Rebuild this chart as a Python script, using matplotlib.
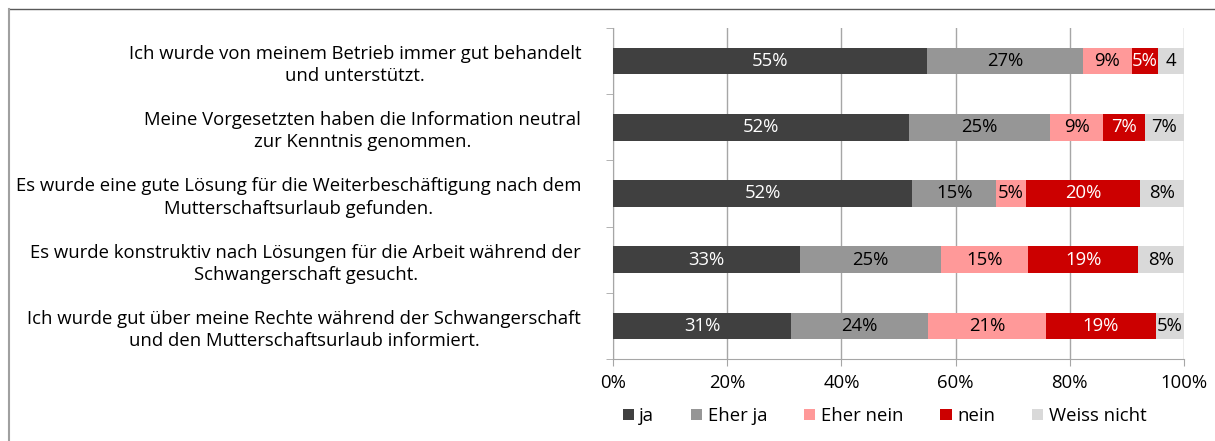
import numpy as np
import matplotlib.pyplot as plt
from matplotlib.lines import Line2D

plt.rcParams['font.family'] = ['Open Sans', 'DejaVu Sans']

statements = [
    "Ich wurde von meinem Betrieb immer gut behandelt\nund unterstützt.",
    "Meine Vorgesetzten haben die Information neutral\nzur Kenntnis genommen.",
    "Es wurde eine gute Lösung für die Weiterbeschäftigung nach dem\nMutterschaftsurlaub gefunden.",
    "Es wurde konstruktiv nach Lösungen für die Arbeit während der\nSchwangerschaft gesucht.",
    "Ich wurde gut über meine Rechte während der Schwangerschaft\nund den Mutterschaftsurlaub informiert.",
]
answers = ["ja", "Eher ja", "Eher nein", "nein", "Weiss nicht"]

# shares in percent
ja = [55.0, 51.9, 52.4, 32.7, 31.2]
eher_ja = [27.3, 24.6, 14.7, 24.7, 24.0]
eher_nein = [8.6, 9.4, 5.2, 15.3, 20.6]
nein = [4.6, 7.2, 20.0, 19.3, 19.3]
weiss_nicht = [4.5, 6.9, 7.7, 8.0, 4.9]

# printed labels (the last one in row 1 is cut to "4")
labels_ja = ["55%", "52%", "52%", "33%", "31%"]
labels_eher_ja = ["27%", "25%", "15%", "25%", "24%"]
labels_eher_nein = ["9%", "9%", "5%", "15%", "21%"]
labels_nein = ["5%", "7%", "20%", "19%", "19%"]
labels_weiss = ["4", "7%", "8%", "8%", "5%"]

colors = ["#404040", "#969696", "#FF9999", "#CC0000", "#D9D9D9"]
text_colors = ["white", "black", "black", "white", "black"]

series = [ja, eher_ja, eher_nein, nein, weiss_nicht]
series_labels = [labels_ja, labels_eher_ja, labels_eher_nein, labels_nein, labels_weiss]

FS = 13.3

fig = plt.figure(figsize=(12.15, 4.41), dpi=100)
ax = fig.add_axes([613 / 1215, 1 - 359 / 441, (1184 - 613) / 1215, (359 - 28) / 441])

y = np.arange(len(statements))
left = np.zeros(len(statements))
for vals, labs, col, tcol, name in zip(series, series_labels, colors, text_colors, answers):
    vals = np.array(vals)
    ax.barh(y, vals, left=left, height=0.4, color=col, label=name, zorder=3)
    for yi, l, v, lab in zip(y, left, vals, labs):
        ax.text(l + v / 2, yi, lab, ha="center", va="center", color=tcol,
                fontsize=FS, zorder=4)
    left += vals

ax.set_xlim(0, 100)
ax.set_ylim(len(statements) - 0.5, -0.5)
ax.set_xticks(np.arange(0, 101, 20))
ax.set_xticklabels([f"{t}%" for t in range(0, 101, 20)], fontsize=FS)
ax.xaxis.grid(True, color="#A6A6A6", linewidth=1, zorder=0)

ax.set_yticks(y)
ax.set_yticklabels(statements, fontsize=FS, multialignment="center", linespacing=1.3)
ax.set_yticks(np.arange(-0.5, len(statements)), minor=True)
ax.tick_params(axis="y", which="major", length=0, pad=23)
ax.tick_params(axis="y", which="minor", length=5, color="#A6A6A6")
ax.tick_params(axis="x", length=5, color="#A6A6A6", pad=6)

for side in ["top", "right"]:
    ax.spines[side].set_visible(False)
for side in ["left", "bottom"]:
    ax.spines[side].set_color("#A6A6A6")

ax.legend(loc="upper center", bbox_to_anchor=(0.4755, -0.095), ncol=5, frameon=False,
          fontsize=FS, handlelength=0.6, handleheight=0.6, handletextpad=0.3,
          columnspacing=2.0)

# chart area border
fig.add_artist(Line2D([8.5 / 1215, 1], [1 - 9 / 441, 1 - 9 / 441], color="#595959", linewidth=1))
fig.add_artist(Line2D([8.5 / 1215, 8.5 / 1215], [0, 1 - 9 / 441], color="#A0A0A0", linewidth=1.5))

fig.savefig("out.png", dpi=100)
